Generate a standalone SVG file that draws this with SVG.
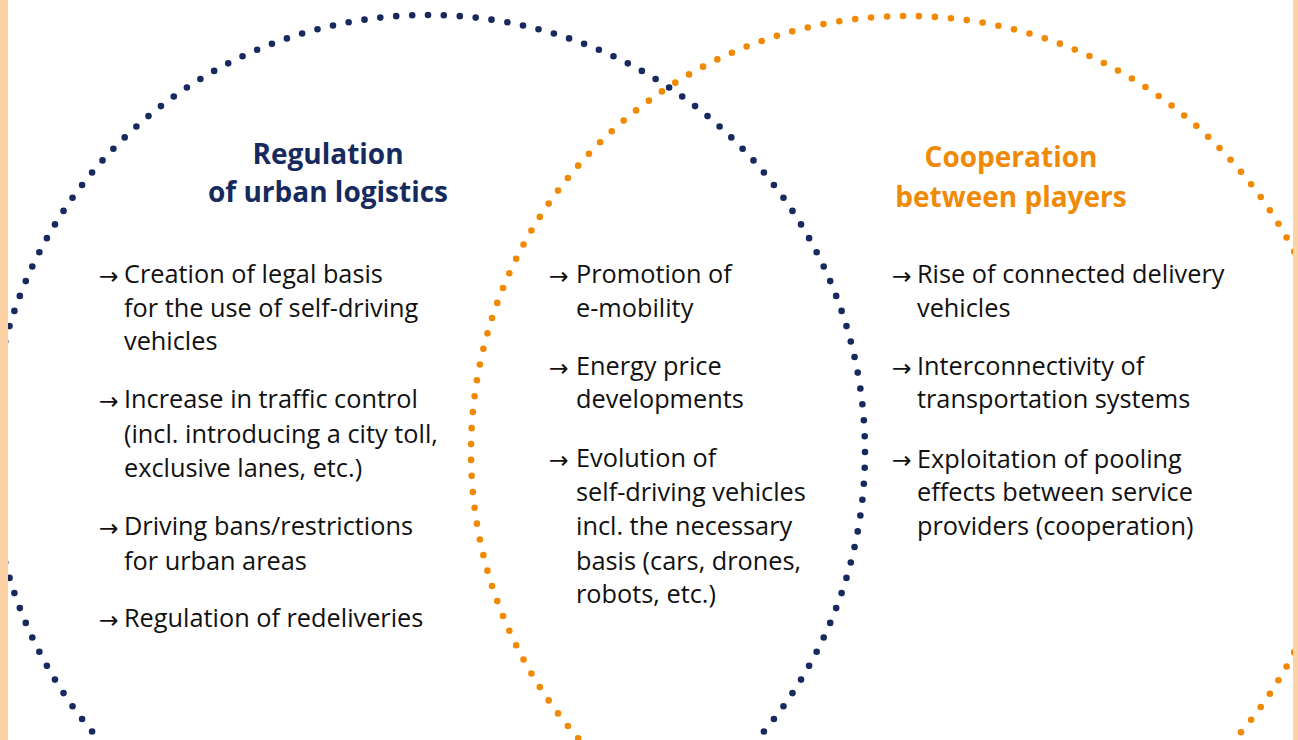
<svg xmlns="http://www.w3.org/2000/svg" width="1298" height="740" viewBox="0 0 1298 740">
<style>
.ring{fill:none;stroke-width:6.6;stroke-linecap:round;stroke-dasharray:0 1}
.navy{stroke:#172a5e}
.orange{stroke:#f08a05}
.h{font-family:"Open Sans","Noto Sans",sans-serif;font-weight:700;font-size:28px;text-anchor:middle}
.hn{fill:#172a5e}
.ho{fill:#f08a05}
.t{font-family:"Open Sans","Noto Sans",sans-serif;font-size:25.3px;fill:#111}
.a{font-family:"DejaVu Sans",sans-serif;font-size:23.5px;fill:#111}
</style>
<rect x="0" y="0" width="1298" height="740" fill="#ffffff"/>
<g id="connectors">
<circle id="ring-cooperation" class="ring orange" cx="907" cy="452" r="436" pathLength="171"/>
<circle id="ring-regulation" class="ring navy" cx="428" cy="452" r="437" pathLength="172"/>
</g>
<rect x="0" y="0" width="8" height="740" fill="#fdd3a6"/>
<rect x="1293" y="0" width="5" height="740" fill="#fdd3a6"/>
<g id="regulation">
<text class="h hn" x="328" y="164">Regulation</text>
<text class="h hn" x="328" y="202">of urban logistics</text>
<text class="a" x="99" y="284">→</text><text class="t" x="124" y="283">Creation of legal basis</text>
<text class="t" x="124" y="317">for the use of self-driving</text>
<text class="t" x="124" y="350">vehicles</text>
<text class="a" x="99" y="409">→</text><text class="t" x="124" y="408">Increase in traffic control</text>
<text class="t" x="124" y="443">(incl. introducing a city toll,</text>
<text class="t" x="124" y="477">exclusive lanes, etc.)</text>
<text class="a" x="99" y="536">→</text><text class="t" x="124" y="535">Driving bans/restrictions</text>
<text class="t" x="124" y="570">for urban areas</text>
<text class="a" x="99" y="628">→</text><text class="t" x="124" y="627">Regulation of redeliveries</text>
</g>
<g id="overlap">
<text class="a" x="549" y="284">→</text><text class="t" x="576" y="283">Promotion of</text>
<text class="t" x="576" y="317">e-mobility</text>
<text class="a" x="549" y="376">→</text><text class="t" x="576" y="375">Energy price</text>
<text class="t" x="576" y="408">developments</text>
<text class="a" x="549" y="468">→</text><text class="t" x="576" y="467">Evolution of</text>
<text class="t" x="576" y="501">self-driving vehicles</text>
<text class="t" x="576" y="535">incl. the necessary</text>
<text class="t" x="576" y="570">basis (cars, drones,</text>
<text class="t" x="576" y="603">robots, etc.)</text>
</g>
<g id="cooperation">
<text class="h ho" x="1011" y="167">Cooperation</text>
<text class="h ho" x="1011" y="207">between players</text>
<text class="a" x="892" y="284">→</text><text class="t" x="917" y="283">Rise of connected delivery</text>
<text class="t" x="917" y="317">vehicles</text>
<text class="a" x="892" y="376">→</text><text class="t" x="917" y="375">Interconnectivity of</text>
<text class="t" x="917" y="408">transportation systems</text>
<text class="a" x="892" y="468">→</text><text class="t" x="917" y="468">Exploitation of pooling</text>
<text class="t" x="917" y="501">effects between service</text>
<text class="t" x="917" y="535">providers (cooperation)</text>
</g>
</svg>
